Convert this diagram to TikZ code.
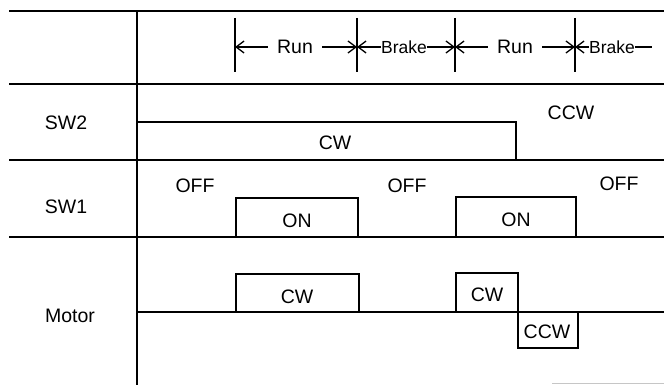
\documentclass[tikz,border=0pt]{standalone}
\usepackage{fontspec}
\setmainfont{Liberation Sans}
\usetikzlibrary{arrows.meta}
\begin{document}
\begin{tikzpicture}[x=1pt,y=-1pt,
  rule/.style={line width=2pt},
  wave/.style={line width=1.8pt},
  tick/.style={line width=1.8pt},
  txt/.style={font=\fontsize{19.5}{19.5}\selectfont, inner sep=0pt},
  small/.style={font=\fontsize{17.5}{17.5}\selectfont, inner sep=0pt},
  span/.style={line width=1.2pt,-{Straight Barb[length=8pt,width=12pt,line width=1.3pt]}},
]
\useasboundingbox (0,0) rectangle (664,385);

% table rules
\draw[rule] (9,11) -- (664,11);
\draw[rule] (9,84) -- (664,84);
\draw[rule] (9,160) -- (664,160);
\draw[rule] (9,237) -- (664,237);
\draw[line width=2.4pt] (137,11) -- (137,385);
\draw[gray!45, line width=1pt] (552,383) -- (664,383);

% phase markers in the header row
\foreach \x/\n in {235/e1,357/e2,455/e3,575/e4}{
  \coordinate (\n t) at (\x,18);
  \coordinate (\n b) at (\x,72);
  \coordinate (\n) at (\x,47);
  \draw[tick] (\n t) -- (\n b);
}
\node[txt]   (run1) at (295,47) {Run};
\node[small] (brk1) at (404,47) {Brake};
\node[txt]   (run2) at (515,47) {Run};
\node[small] (brk2) at (612,47) {Brake};
\coordinate (tailend) at (652,47);

\draw[span] ([xshift=-9pt]run1.west) -- (e1);
\draw[span] ([xshift=9pt]run1.east) -- (e2);
\draw[span] (brk1.west) -- (e2);
\draw[span] (brk1.east) -- (e3);
\draw[span] ([xshift=-9pt]run2.west) -- (e3);
\draw[span] ([xshift=9pt]run2.east) -- (e4);
\draw[span] (brk2.west) -- (e4);
\draw[line width=1.2pt] (brk2.east) -- (tailend);

% SW2 row
\node[txt] (sw2) at (66,123) {SW2};
\draw[wave] (137,122) -- (516,122) -- (516,160);
\node[txt] (sw2cw)  at (335,143) {CW};
\node[txt] (sw2ccw) at (571,113) {CCW};

% SW1 row
\node[txt] (sw1) at (66,207) {SW1};
\draw[wave] (236,237) -- (236,198) -- (358,198) -- (358,237);
\draw[wave] (456,237) -- (456,197) -- (576,197) -- (576,237);
\node[txt] (off1) at (195,186) {OFF};
\node[txt] (off2) at (407,186) {OFF};
\node[txt] (off3) at (619,184) {OFF};
\node[txt] (on1)  at (297,221) {ON};
\node[txt] (on2)  at (516,220) {ON};

% Motor row
\node[txt] (motor) at (70,316) {Motor};
\draw[wave] (137,312) -- (664,312);
\draw[wave] (236,312) -- (236,274) -- (359,274) -- (359,312);
\draw[wave] (456,312) -- (456,273) -- (518,273) -- (518,348) -- (578,348) -- (578,312);
\node[txt] (mcw1) at (297,297) {CW};
\node[txt] (mcw2) at (487,295) {CW};
\node[txt] (mccw) at (547,332) {CCW};
\end{tikzpicture}
\end{document}
